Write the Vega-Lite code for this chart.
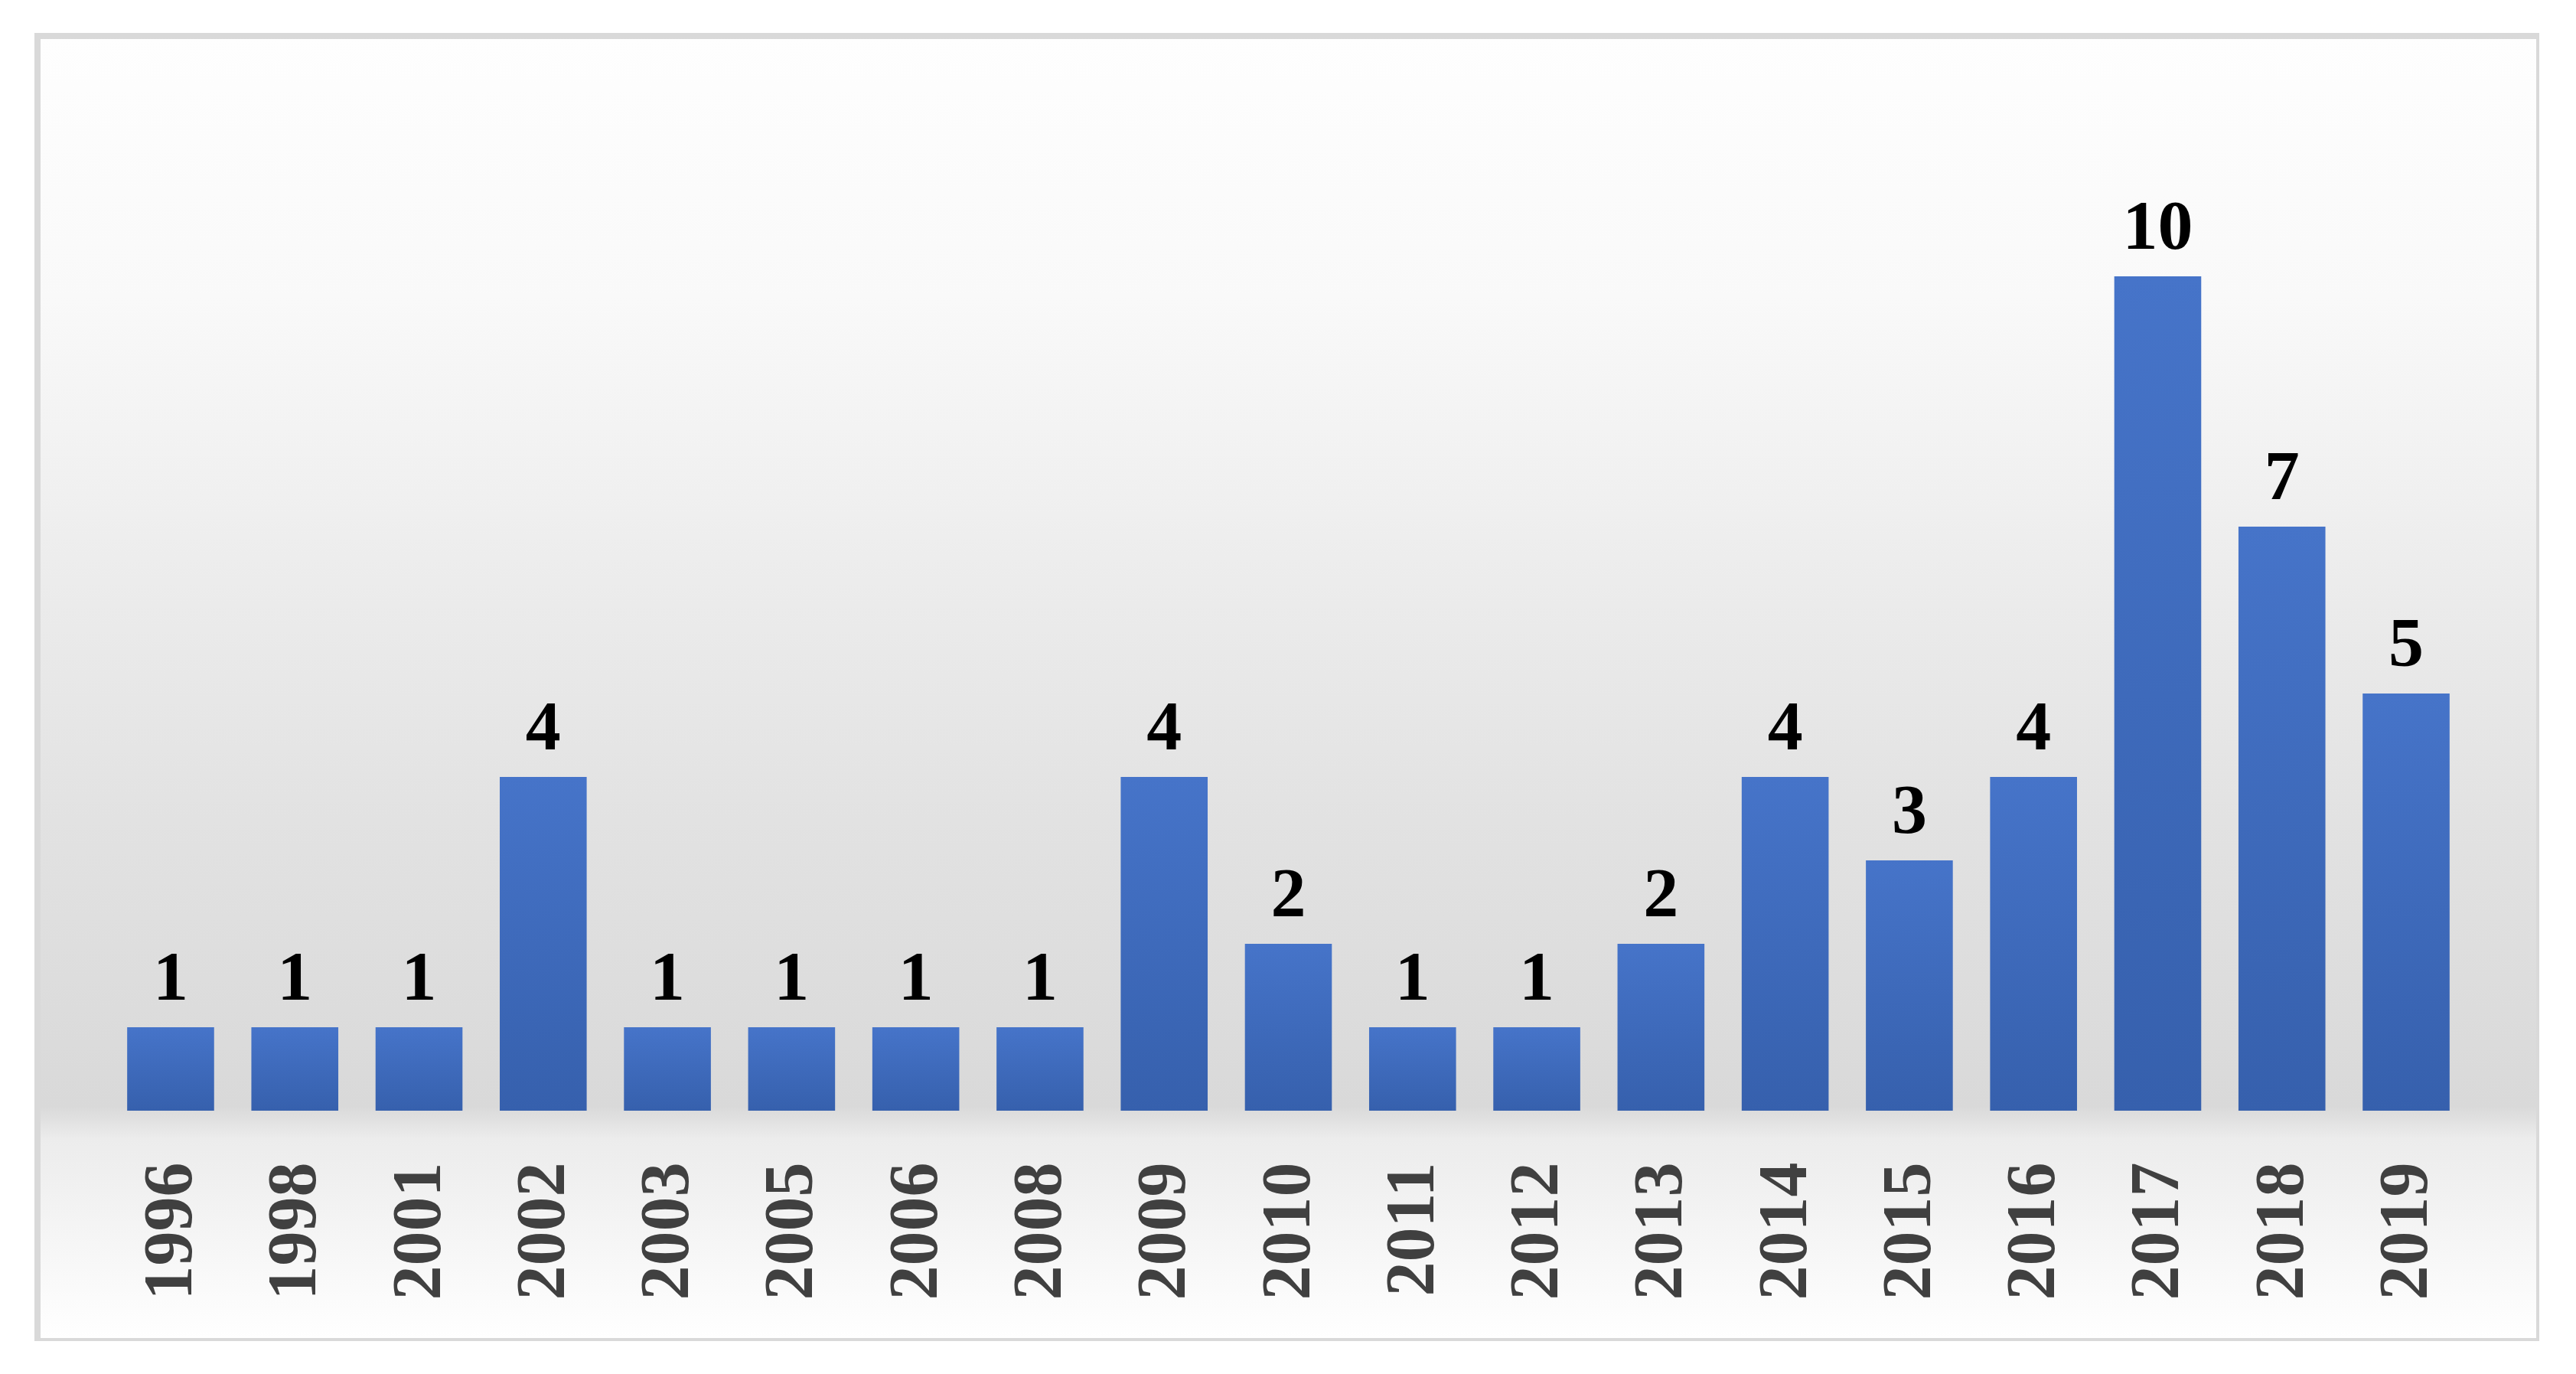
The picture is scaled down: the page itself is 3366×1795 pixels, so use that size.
{
  "$schema": "https://vega.github.io/schema/vega-lite/v6.json",
  "autosize": {"type": "none"},
  "width": 3269,
  "height": 1705,
  "padding": {"left": 49, "top": 47, "right": 0, "bottom": 0},
  "background": "#ffffff",
  "config": {
    "view": {
      "stroke": "#d9d9d9",
      "strokeWidth": 8,
      "fill": {
        "gradient": "linear",
        "x1": 0, "y1": 0, "x2": 0, "y2": 1,
        "stops": [
          {"offset": 0, "color": "#fefefe"},
          {"offset": 0.2, "color": "#f9f9f9"},
          {"offset": 0.4, "color": "#ededed"},
          {"offset": 0.6, "color": "#e2e2e2"},
          {"offset": 0.82, "color": "#d9d9d9"},
          {"offset": 0.845, "color": "#ececec"},
          {"offset": 1, "color": "#ffffff"}
        ]
      }
    }
  },
  "data": {
    "values": [
      {"year": "1996", "count": 1},
      {"year": "1998", "count": 1},
      {"year": "2001", "count": 1},
      {"year": "2002", "count": 4},
      {"year": "2003", "count": 1},
      {"year": "2005", "count": 1},
      {"year": "2006", "count": 1},
      {"year": "2008", "count": 1},
      {"year": "2009", "count": 4},
      {"year": "2010", "count": 2},
      {"year": "2011", "count": 1},
      {"year": "2012", "count": 1},
      {"year": "2013", "count": 2},
      {"year": "2014", "count": 4},
      {"year": "2015", "count": 3},
      {"year": "2016", "count": 4},
      {"year": "2017", "count": 10},
      {"year": "2018", "count": 7},
      {"year": "2019", "count": 5}
    ]
  },
  "encoding": {
    "x": {
      "field": "year",
      "type": "ordinal",
      "sort": null,
      "scale": {"paddingInner": 0.3, "paddingOuter": 0.722},
      "axis": {
        "title": null,
        "orient": "bottom",
        "offset": -301,
        "domain": false,
        "ticks": false,
        "grid": false,
        "labelAngle": -90,
        "labelAlign": "right",
        "labelBaseline": "middle",
        "labelPadding": 67,
        "labelLimit": 0,
        "labelOverlap": false,
        "labelFont": "Liberation Serif",
        "labelFontWeight": "bold",
        "labelFontSize": 90,
        "labelColor": "#404040"
      }
    },
    "y": {
      "field": "count",
      "type": "quantitative",
      "scale": {"domain": [-2.761, 12.881], "nice": false, "zero": false},
      "axis": null
    }
  },
  "layer": [
    {
      "mark": {
        "type": "bar",
        "color": {
          "gradient": "linear",
          "x1": 0, "y1": 0, "x2": 0, "y2": 1,
          "stops": [
            {"offset": 0, "color": "#4674c9"},
            {"offset": 1, "color": "#3660ad"}
          ]
        }
      },
      "encoding": {
        "y2": {"datum": 0}
      }
    },
    {
      "mark": {
        "type": "text",
        "baseline": "alphabetic",
        "dy": -36,
        "font": "Liberation Serif",
        "fontWeight": "bold",
        "fontSize": 92,
        "color": "#000000"
      },
      "encoding": {
        "text": {"field": "count", "type": "quantitative"}
      }
    }
  ]
}
